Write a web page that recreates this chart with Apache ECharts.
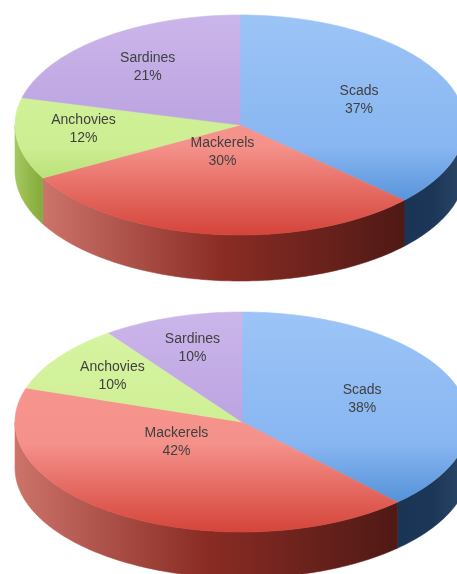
<!DOCTYPE html>
<html>
<head>
<meta charset="utf-8">
<script src="https://cdn.jsdelivr.net/npm/echarts@6/dist/echarts.min.js"></script>
<style>
  html, body { margin: 0; padding: 0; background: #ffffff; }
  #chart { width: 457px; height: 574px; }
</style>
</head>
<body>
<div id="chart"></div>
<script>
// Catch composition by species, two periods (percent of total)
const species = ['Scads', 'Mackerels', 'Anchovies', 'Sardines'];
const catchUpper = [37, 30, 12, 21];
const catchLower = [38, 42, 10, 10];

// Top face colours, vertical: light, still light at mid-depth, dark at the front edge
const topColors = [
  ['#9cc4f7', '#88b6f1', '#3a80cd'],
  ['#f89a92', '#f4918a', '#d5443a'],
  ['#d8f5a4', '#cdee92', '#98c94e'],
  ['#cbb6ea', '#b9a0e0', '#8260b3']
];
// Rim colours, horizontal: left -> right
const sideColors = [
  ['#1a3454', '#1c3758', '#2c4767'],
  ['#cc736a', '#8a2c24', '#4f1915'],
  ['#a5c862', '#94b94a', '#84a93c'],
  ['#8a6ab8', '#74539f', '#5e3f8c']
];

function linear(x, y, x2, y2, cols, midAt) {
  return {
    type: 'linear', x: x, y: y, x2: x2, y2: y2, global: true,
    colorStops: [
      { offset: 0, color: cols[0] },
      { offset: midAt, color: cols[1] },
      { offset: 1, color: cols[2] }
    ]
  };
}

// A tilted pie drawn as an ellipse with a rim of the given depth.
// Angles run clockwise from 12 o'clock.
function tiltedPie(values, geom) {
  const total = values.reduce((a, b) => a + b, 0);
  const starts = [];
  let acc = 0;
  values.forEach(v => { starts.push(acc); acc += v; });

  const pt = (deg, dy) => {
    const r = deg * Math.PI / 180;
    return [geom.cx + geom.rx * Math.sin(r), geom.cy - geom.ry * Math.cos(r) + (dy || 0)];
  };
  const arc = (d1, d2, dy) => {
    const pts = [];
    const n = Math.max(2, Math.ceil(Math.abs(d2 - d1)));
    for (let k = 0; k <= n; k++) pts.push(pt(d1 + (d2 - d1) * k / n, dy));
    return pts;
  };

  return {
    type: 'custom',
    coordinateSystem: 'none',
    silent: true,
    data: values.map((v, i) => ({ name: species[i], value: [v, starts[i]] })),
    renderItem(params, api) {
      const i = params.dataIndex;
      const v = api.value(0);
      const s = api.value(1);
      const a1 = s / total * 360;
      const a2 = (s + v) / total * 360;
      const children = [];

      // visible rim: the front half of the ellipse (90°..270°)
      const r1 = Math.max(a1, 90), r2 = Math.min(a2, 270);
      if (r2 > r1) {
        const upper = arc(r1, r2, 0);
        const lower = arc(r2, r1, geom.depth);
        const xs = upper.map(p => p[0]);
        const fill = linear(Math.min(...xs), 0, Math.max(...xs), 0, sideColors[i], 0.5);
        children.push({
          type: 'polygon',
          shape: { points: upper.concat(lower) },
          style: { fill: fill, stroke: fill, lineWidth: 0.6 },
          z2: 1
        });
      }

      // top face
      const topFill = linear(0, geom.cy - geom.ry, 0, geom.cy + geom.ry, topColors[i], 0.6);
      children.push({
        type: 'polygon',
        shape: { points: [[geom.cx, geom.cy]].concat(arc(a1, a2, 0)) },
        style: { fill: topFill, stroke: topFill, lineWidth: 0.6 },
        z2: 2
      });

      // label near the centroid of the slice, pulled in towards the front
      const half = (a2 - a1) / 2 * Math.PI / 180;
      const mid = (a1 + a2) / 2 * Math.PI / 180;
      const fx = 2 / 3 * Math.sin(half) / half + 0.05;
      const fy = Math.cos(mid) > 0 ? fx : fx * 0.4;
      children.push({
        type: 'text',
        x: geom.cx + geom.rx * fx * Math.sin(mid),
        y: geom.cy - geom.ry * fy * Math.cos(mid),
        style: {
          text: species[i] + '\n' + v + '%',
          fill: '#404040',
          font: '14px "Liberation Sans", Arial, sans-serif',
          lineHeight: 18,
          align: 'center',
          verticalAlign: 'middle'
        },
        z2: 10
      });

      return { type: 'group', children: children };
    }
  };
}

const chart = echarts.init(document.getElementById('chart'), null, { renderer: 'canvas' });
chart.setOption({
  backgroundColor: '#ffffff',
  animation: false,
  series: [
    tiltedPie(catchUpper, { cx: 240, cy: 125, rx: 225, ry: 110, depth: 46 }),
    tiltedPie(catchLower, { cx: 242, cy: 422, rx: 227, ry: 110, depth: 46 })
  ]
});
</script>
</body>
</html>
